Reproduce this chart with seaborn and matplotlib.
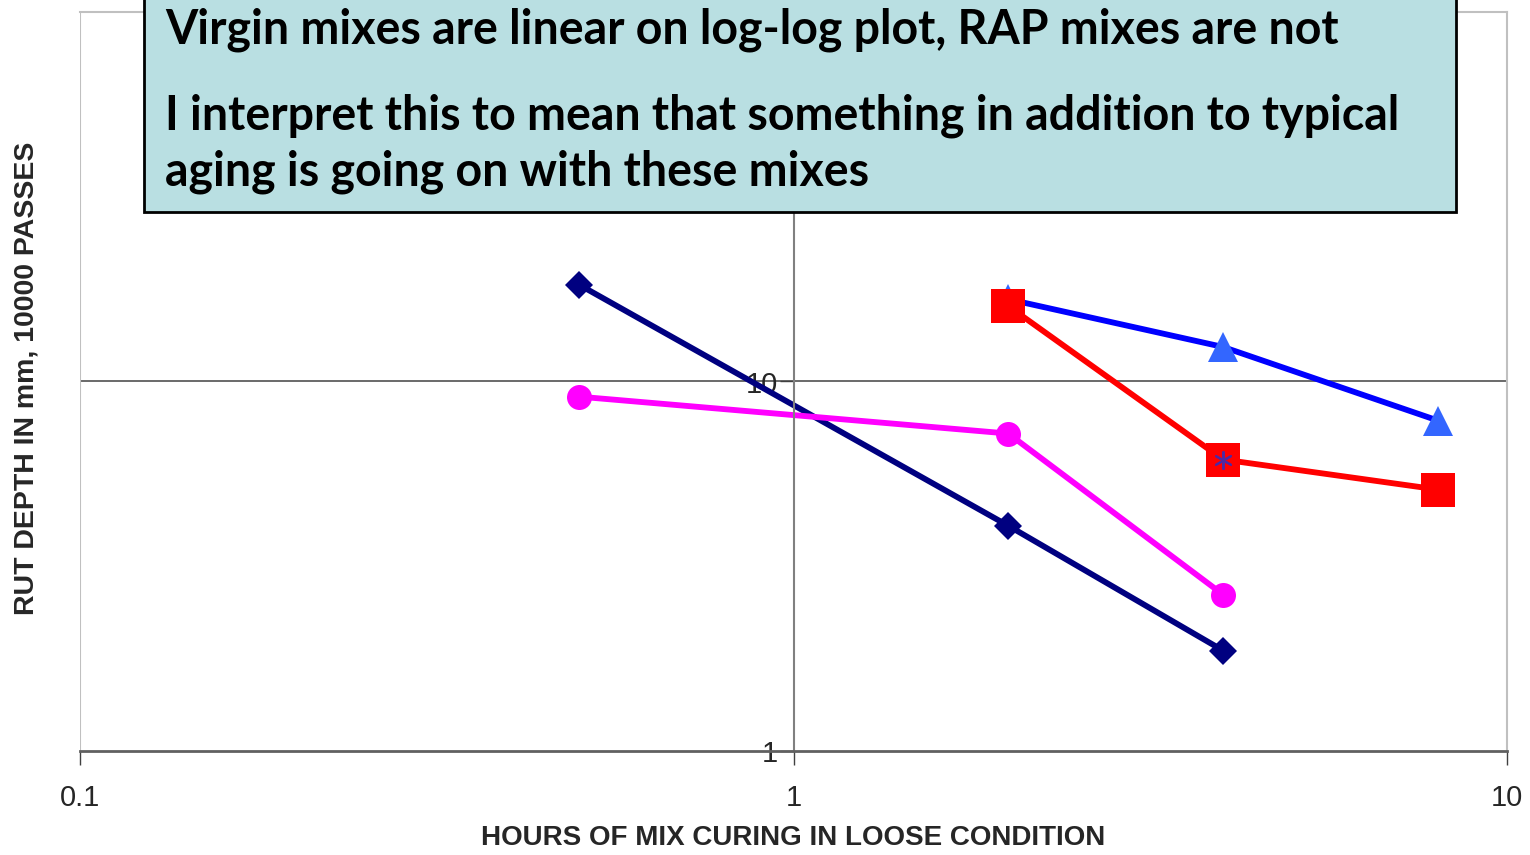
import matplotlib
matplotlib.use("Agg")
import matplotlib.pyplot as plt
import numpy as np
import pandas as pd
import seaborn as sns
from matplotlib.patches import Rectangle
from matplotlib.ticker import FixedLocator, FixedFormatter, NullLocator

# hours of loose-mix curing
hours_virgin = [0.5, 2, 4]
hours_rap = [2, 4, 8]

# rut depth (mm) after 10000 passes
rut_virgin_a = [18.3, 4.07, 1.87]    # navy diamonds
rut_virgin_b = [9.1, 7.23, 2.65]     # magenta circles
rut_rap_a = [16.7, 12.4, 7.84]       # blue triangles
rut_rap_b = [16.0, 6.15, 5.1]        # red squares
hours_single = [4]
rut_single = [6.15]                  # asterisk

x_ticks = [0.1, 1, 10]
x_tick_labels = ["0.1", "1", "10"]
y_ticks = [1, 10]
y_tick_labels = ["1", "10"]

box_lines = [
    "Virgin mixes are linear on log-log plot, RAP mixes are not",
    "I interpret this to mean that something in addition to typical",
    "aging is going on with these mixes",
]

sns.set_style("white")
plt.rcParams["font.family"] = ["Liberation Sans", "DejaVu Sans"]

fig = plt.figure(figsize=(15.3, 8.55), dpi=100)
ax = fig.add_axes([80 / 1530, 1 - 751 / 855, 1427 / 1530, 739 / 855])

lw = 4.2
sns.lineplot(x=hours_virgin, y=rut_virgin_a, ax=ax, color="#000080", lw=lw,
             marker="D", markersize=14, markeredgewidth=0, sort=False)
sns.lineplot(x=hours_virgin, y=rut_virgin_b, ax=ax, color="#FF00FF", lw=lw,
             marker="o", markersize=18, markeredgewidth=0, sort=False)
sns.lineplot(x=hours_rap, y=rut_rap_a, ax=ax, color="#0000FF", lw=lw,
             marker="^", markersize=22, markerfacecolor="#3366FF",
             markeredgewidth=0, sort=False)
sns.lineplot(x=hours_rap, y=rut_rap_b, ax=ax, color="#FF0000", lw=lw,
             marker="s", markersize=24, markeredgewidth=0, sort=False)
sns.scatterplot(x=hours_single, y=rut_single, ax=ax, marker=(6, 2, 0), s=150,
                color="#5028a0", linewidth=1.5, zorder=5)

ax.set_xscale("log")
ax.set_yscale("log")
ax.set_xlim(0.1, 10)
ax.set_ylim(1, 100)

ax.xaxis.set_major_locator(FixedLocator(x_ticks))
ax.xaxis.set_major_formatter(FixedFormatter(x_tick_labels))
ax.xaxis.set_minor_locator(NullLocator())
ax.yaxis.set_major_locator(FixedLocator(y_ticks))
ax.yaxis.set_major_formatter(FixedFormatter(y_tick_labels))
ax.yaxis.set_minor_locator(NullLocator())

# frame: light grey box, dark y axis at x=1
for side in ["top", "right"]:
    ax.spines[side].set_color("#c0c0c0")
    ax.spines[side].set_linewidth(1.5)
ax.spines["bottom"].set_color("#606060")
ax.spines["bottom"].set_linewidth(2)
ax.spines["left"].set_position(("data", 1))
ax.spines["left"].set_color("#808080")
ax.spines["left"].set_linewidth(1.5)
ax.axvline(0.1, color="#c0c0c0", lw=1.5)
ax.axhline(10, color="#505050", lw=1.2, zorder=0)

ax.tick_params(axis="x", direction="out", length=10, width=1, color="#404040",
               labelsize=21, pad=14, bottom=True)
ax.tick_params(axis="y", direction="out", length=10, width=1, color="#404040",
               labelsize=21, pad=1, left=True)

ax.set_xlabel("HOURS OF MIX CURING IN LOOSE CONDITION", fontsize=20,
              fontweight="bold", labelpad=9)
fig.text(27 / 1530, 1 - 378 / 855, "RUT DEPTH IN mm, 10000 PASSES", rotation=90,
         fontsize=20.5, fontweight="bold", ha="center", va="center")

# annotation box
box = Rectangle((144 / 1530, 1 - 212 / 855), (1456 - 144) / 1530, 0.3,
                transform=fig.transFigure, facecolor="#B9DFE2",
                edgecolor="black", lw=2, zorder=10)
fig.patches.append(box)
baselines = [43, 130, 186]
for line, yb in zip(box_lines, baselines):
    fig.text(165 / 1530, 1 - yb / 855, line, fontsize=33.5, va="baseline",
             ha="left", family=["Lato", "DejaVu Sans"], fontweight="bold",
             color="black", zorder=11)

fig.savefig("out.png", dpi=100)
